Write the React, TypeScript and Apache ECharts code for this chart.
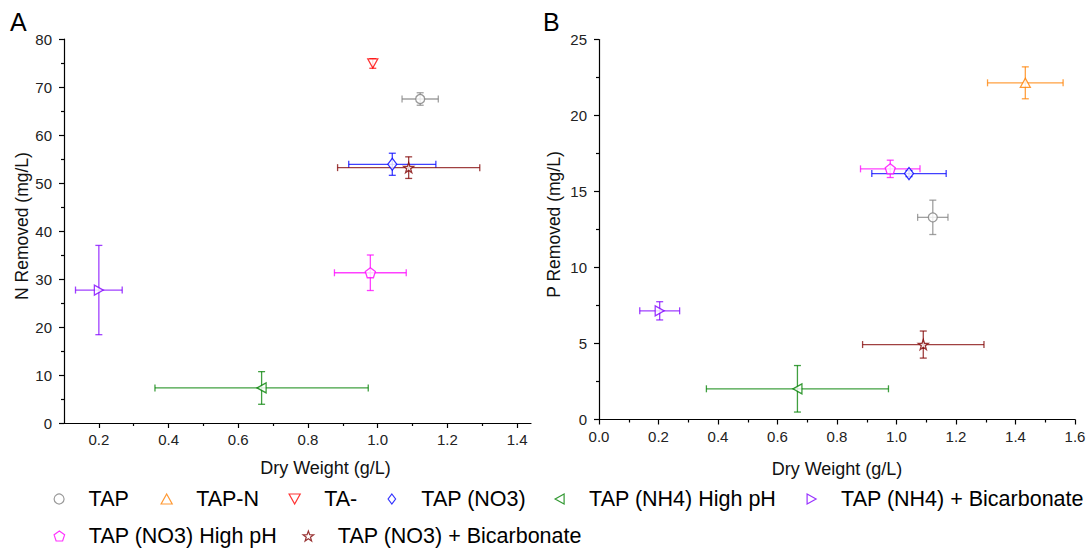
import React, { useEffect, useRef } from 'react';
import * as echarts from 'echarts';

// ---------- data ----------
const conditions = [
  'TAP',
  'TAP-N',
  'TA-',
  'TAP (NO3)',
  'TAP (NH4) High pH',
  'TAP (NH4) + Bicarbonate',
  'TAP (NO3) High pH',
  'TAP (NO3) + Bicarbonate',
];
// Panel A: N removed
const nDryWeight = [1.122, null, 0.986, 1.042, 0.667, 0.2, 0.979, 1.089];
const nDryWeightErr = [0.052, null, 0, 0.125, 0.306, 0.067, 0.103, 0.204];
const nRemoved = [67.5, null, 74.9, 53.9, 7.3, 27.7, 31.3, 53.2];
const nRemovedErr = [1.3, null, 1.0, 2.3, 3.4, 9.3, 3.7, 2.25];
// Panel B: P removed
const pDryWeight = [1.122, 1.433, null, 1.042, 0.667, 0.204, 0.979, 1.09];
const pDryWeightErr = [0.051, 0.127, null, 0.125, 0.306, 0.067, 0.1, 0.204];
const pRemoved = [13.3, 22.15, null, 16.18, 2.02, 7.15, 16.49, 4.93];
const pRemovedErr = [1.13, 1.05, null, 0.2, 1.53, 0.6, 0.57, 0.89];
// tick labels
const xTicksA = [0.2, 0.4, 0.6, 0.8, 1.0, 1.2, 1.4];
const xMinorTicksA = [0.3, 0.5, 0.7, 0.9, 1.1, 1.3];

// ---------- styles ----------
const colors = ['#808080', '#ff8000', '#ff0000', '#0000ff', '#008000', '#8000ff', '#ff00ff', '#800000'];
const symbols = [
  'circle',
  'path://M5,0 L10,9 L0,9 Z',
  'path://M0,0 L10,0 L5,9 Z',
  'path://M4.5,0 L9,6 L4.5,12 L0,6 Z',
  'path://M0,5 L9,0 L9,10 Z',
  'path://M9,5 L0,0 L0,10 Z',
  'path://M50,0 L97.6,34.5 L79.4,90.5 L20.6,90.5 L2.4,34.5 Z',
  'path://M50,0 L61.8,33.8 L97.6,34.5 L69,56.2 L79.4,90.5 L50,70 L20.6,90.5 L31,56.2 L2.4,34.5 L38.2,33.8 Z',
];
const symbolSizes: any[] = [9, [10, 9], [10, 9], [9, 12], [9, 10], [9, 10], [10, 10], [10, 10]];
// legend icon centres (x, y)
const legendPos = [
  [59, 499],
  [166, 499],
  [294, 499],
  [393, 499],
  [560, 499],
  [812, 499],
  [59, 536],
  [308, 536],
];
const LEGEND_SHIFT = 19;
const FONT = '"Liberation Sans", Arial, sans-serif';
const fmt1 = (v: number) => Number(v).toFixed(1);

function buildSeries(
  xs: (number | null)[],
  xe: (number | null)[],
  ys: (number | null)[],
  ye: (number | null)[],
  xAxisIndex: number,
  yAxisIndex: number
) {
  const out: any[] = [];
  conditions.forEach((name, i) => {
    const x = xs[i];
    const y = ys[i];
    if (x == null || y == null) return;
    const color = colors[i];
    out.push({
      type: 'custom',
      name: name + ' err',
      xAxisIndex,
      yAxisIndex,
      z: 2,
      silent: true,
      data: [[x, y, xe[i] || 0, ye[i] || 0]],
      encode: { x: 0, y: 1 },
      renderItem: (params: any, api: any) => {
        const vx = api.value(0);
        const vy = api.value(1);
        const ex = api.value(2);
        const ey = api.value(3);
        const cap = 3.5;
        const st = { stroke: color, lineWidth: 1.3, opacity: 0.75 };
        const ch: any[] = [];
        if (ex > 0) {
          const l = api.coord([vx - ex, vy]);
          const r = api.coord([vx + ex, vy]);
          ch.push({ type: 'line', shape: { x1: l[0], y1: l[1], x2: r[0], y2: r[1] }, style: st });
          ch.push({ type: 'line', shape: { x1: l[0], y1: l[1] - cap, x2: l[0], y2: l[1] + cap }, style: st });
          ch.push({ type: 'line', shape: { x1: r[0], y1: r[1] - cap, x2: r[0], y2: r[1] + cap }, style: st });
        }
        if (ey > 0) {
          const t = api.coord([vx, vy + ey]);
          const b = api.coord([vx, vy - ey]);
          ch.push({ type: 'line', shape: { x1: t[0], y1: t[1], x2: b[0], y2: b[1] }, style: st });
          ch.push({ type: 'line', shape: { x1: t[0] - cap, y1: t[1], x2: t[0] + cap, y2: t[1] }, style: st });
          ch.push({ type: 'line', shape: { x1: b[0] - cap, y1: b[1], x2: b[0] + cap, y2: b[1] }, style: st });
        }
        return { type: 'group', children: ch };
      },
    });
    out.push({
      type: 'scatter',
      name,
      xAxisIndex,
      yAxisIndex,
      z: 3,
      symbol: symbols[i],
      symbolSize: symbolSizes[i],
      itemStyle: { color: '#ffffff', borderColor: color, borderWidth: 1.3 },
      data: [[x, y]],
    });
  });
  return out;
}

const axisLine = { show: true, onZero: false, lineStyle: { color: '#000', width: 1.2 } };
const tickLine = { color: '#000', width: 1.2 };
const labelStyle = { fontSize: 15, color: '#222', fontFamily: FONT };
const nameStyle = { fontSize: 18, color: '#111', fontFamily: FONT };
const yNameStyle = { fontSize: 17.5, color: '#111', fontFamily: FONT, padding: [0, 0, 0, 10] };

export default function App() {
  const ref = useRef<HTMLDivElement>(null);
  useEffect(() => {
    if (!ref.current) return;
    const chart = echarts.init(ref.current, null, { renderer: 'svg' });
    const option: any = {
      animation: false,
      backgroundColor: '#ffffff',
      textStyle: { fontFamily: FONT },
      grid: [
        { left: 64, top: 39, width: 467, height: 384 },
        { left: 599, top: 39.5, width: 476, height: 380 },
      ],
      xAxis: [
        {
          gridIndex: 0,
          type: 'value',
          min: 0.1,
          max: 1.44,
          position: 'bottom',
          name: 'Dry Weight (g/L)',
          nameLocation: 'middle',
          nameGap: 36,
          nameTextStyle: { ...nameStyle, padding: [0, 0, 0, 56] },
          axisLine,
          axisTick: { show: true, customValues: xTicksA, length: 5, lineStyle: tickLine },
          axisLabel: { customValues: xTicksA, formatter: fmt1, margin: 9, ...labelStyle },
          splitLine: { show: false },
        },
        {
          gridIndex: 0,
          type: 'value',
          min: 0.1,
          max: 1.44,
          position: 'bottom',
          offset: 0,
          axisLine: { show: false },
          axisTick: { show: true, customValues: xMinorTicksA, length: 3, lineStyle: tickLine },
          axisLabel: { show: false },
          splitLine: { show: false },
        },
        {
          gridIndex: 1,
          type: 'value',
          min: 0,
          max: 1.6,
          interval: 0.2,
          position: 'bottom',
          name: 'Dry Weight (g/L)',
          nameLocation: 'middle',
          nameGap: 40,
          nameTextStyle: nameStyle,
          axisLine,
          axisTick: { show: true, length: 5, lineStyle: tickLine },
          minorTick: { show: true, splitNumber: 2, length: 3, lineStyle: tickLine },
          axisLabel: { formatter: fmt1, margin: 9, ...labelStyle },
          splitLine: { show: false },
        },
      ],
      yAxis: [
        {
          gridIndex: 0,
          type: 'value',
          min: 0,
          max: 80,
          interval: 10,
          name: 'N Removed (mg/L)',
          nameLocation: 'middle',
          nameGap: 33,
          nameTextStyle: yNameStyle,
          axisLine,
          axisTick: { show: true, length: 5, lineStyle: tickLine },
          minorTick: { show: true, splitNumber: 2, length: 3, lineStyle: tickLine },
          axisLabel: { margin: 12, ...labelStyle },
          splitLine: { show: false },
        },
        {
          gridIndex: 1,
          type: 'value',
          min: 0,
          max: 25,
          interval: 5,
          name: 'P Removed (mg/L)',
          nameLocation: 'middle',
          nameGap: 36,
          nameTextStyle: yNameStyle,
          axisLine,
          axisTick: { show: true, length: 5, lineStyle: tickLine },
          minorTick: { show: true, splitNumber: 2, length: 3, lineStyle: tickLine },
          axisLabel: { margin: 12, ...labelStyle },
          splitLine: { show: false },
        },
      ],
      legend: conditions.map((name, i) => ({
        data: [name],
        left: legendPos[i][0] - 24.5 + LEGEND_SHIFT,
        top: legendPos[i][1] - 11,
        orient: 'horizontal',
        padding: 0,
        itemGap: 0,
        itemWidth: 49,
        itemHeight: 10,
        selectedMode: false,
        itemStyle: { borderWidth: 1.2 },
        textStyle: { fontSize: 21.5, lineHeight: 22, color: '#000', fontFamily: FONT },
      })),
      graphic: [
        { type: 'text', left: 10, top: 9, style: { text: 'A', fontSize: 25, fill: '#000', fontFamily: FONT } },
        { type: 'text', left: 543, top: 9, style: { text: 'B', fontSize: 25, fill: '#000', fontFamily: FONT } },
      ],
      series: [
        ...buildSeries(nDryWeight, nDryWeightErr, nRemoved, nRemovedErr, 0, 0),
        ...buildSeries(pDryWeight, pDryWeightErr, pRemoved, pRemovedErr, 2, 1),
      ],
    };
    chart.setOption(option);
    return () => chart.dispose();
  }, []);
  return (
    <div
      ref={ref}
      style={{ position: 'fixed', left: 0, top: 0, width: 1089, height: 549, background: '#fff' }}
    />
  );
}
